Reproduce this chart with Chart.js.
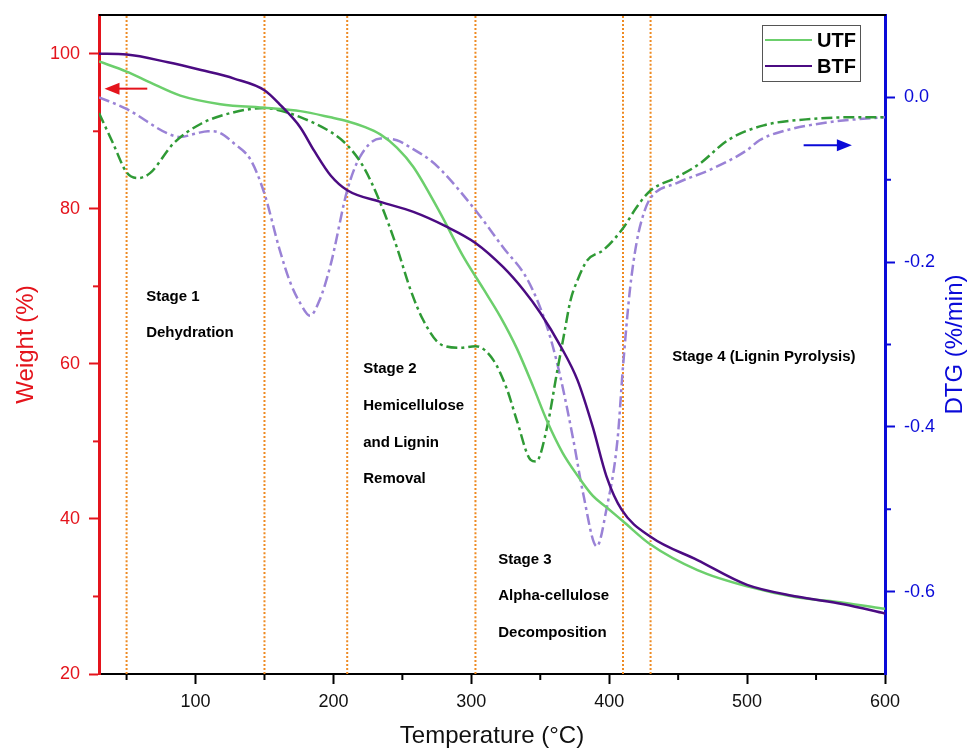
<!DOCTYPE html>
<html>
<head>
<meta charset="utf-8">
<title>TGA / DTG</title>
<script src="https://cdn.jsdelivr.net/npm/chart.js@4.4.1/dist/chart.umd.min.js"></script>
<style>
  html, body { margin: 0; padding: 0; background: #fff; }
</style>
</head>
<body>
<canvas id="tga" width="968" height="752"></canvas>
<script>
// Weight loss (TGA, left axis, %)
const utfTgaTemp   = [30, 50, 67, 89, 118, 152, 176, 198, 210, 222, 234, 246, 258, 277, 294, 309, 321, 333, 345, 355, 366, 377, 388, 398, 410, 430, 464, 500, 536, 570, 600];
const utfTgaWeight = [99.0, 97.7, 96.3, 94.6, 93.5, 93.0, 92.6, 91.8, 91.3, 90.6, 89.6, 87.9, 85.4, 79.6, 73.9, 69.6, 66.1, 62.0, 57.0, 52.6, 48.6, 45.6, 43.0, 41.5, 39.7, 36.7, 33.4, 31.3, 29.9, 29.2, 28.4];

const btfTgaTemp   = [30, 50, 80, 104, 128, 150, 162, 176, 186, 198, 210, 234, 258, 282, 303, 323, 338, 350, 365, 377, 388, 398, 409, 430, 464, 500, 536, 570, 600];
const btfTgaWeight = [100.0, 99.9, 98.9, 97.9, 96.8, 95.3, 93.3, 90.5, 87.5, 84.3, 82.4, 80.9, 79.6, 77.7, 75.6, 72.5, 69.5, 66.6, 62.2, 57.9, 51.9, 45.5, 41.2, 37.7, 34.7, 31.5, 30.0, 29.0, 27.8];

// Derivative curves (DTG, right axis, %/min)
const utfDtgTemp = [30, 40, 50, 58, 67, 84, 104, 128, 150, 159, 176, 198, 210, 222, 234, 246, 256, 265, 278, 292, 303, 316, 326, 333, 343, 347, 355, 362, 367, 372, 377, 384, 396, 410, 420, 430, 449, 466, 486, 512, 548, 584, 600];
const utfDtgRate = [-0.019, -0.055, -0.091, -0.098, -0.092, -0.056, -0.032, -0.018, -0.013, -0.015, -0.024, -0.042, -0.058, -0.085, -0.128, -0.182, -0.234, -0.270, -0.300, -0.304, -0.302, -0.319, -0.355, -0.392, -0.440, -0.442, -0.400, -0.335, -0.290, -0.246, -0.222, -0.198, -0.185, -0.159, -0.133, -0.113, -0.097, -0.080, -0.052, -0.034, -0.026, -0.024, -0.024];

const btfDtgTemp = [30, 50, 80, 89, 100, 109, 116, 128, 140, 150, 161, 169, 176, 183, 190, 198, 210, 219, 234, 246, 256, 270, 278, 303, 323, 341, 355, 364, 374, 381, 391, 398, 406, 410, 415, 420, 425, 430, 449, 473, 500, 509, 524, 560, 600];
const btfDtgRate = [0.0, -0.014, -0.044, -0.048, -0.044, -0.041, -0.042, -0.056, -0.076, -0.117, -0.185, -0.226, -0.250, -0.265, -0.246, -0.203, -0.113, -0.073, -0.050, -0.052, -0.061, -0.076, -0.088, -0.137, -0.182, -0.222, -0.279, -0.335, -0.416, -0.480, -0.545, -0.500, -0.416, -0.327, -0.234, -0.175, -0.141, -0.122, -0.104, -0.088, -0.064, -0.052, -0.042, -0.030, -0.024];

// Stage boundaries (°C)
const stageBounds = [50, 150, 210, 303, 410, 430];

// Axis ticks
const tempTicks   = [100, 200, 300, 400, 500, 600];
const weightTicks = [20, 40, 60, 80, 100];
const dtgTicks    = [-0.6, -0.4, -0.2, 0.0];
const tempMinor   = [50, 150, 250, 350, 450, 550];
const weightMinor = [30, 50, 70, 90];
const dtgMinor    = [-0.5, -0.3, -0.1];

const FONT = '"Liberation Sans", Arial, Helvetica, sans-serif';
const RED = '#e4141c';
const BLUE = '#0a0ad8';
const C_UTF = '#6ccf6c';
const C_BTF = '#4b0b82';
const C_UTF_DTG = '#2f9a35';
const C_BTF_DTG = '#9a82d6';
const C_STAGE = '#ee8a22';
const DASH_DOT = [11, 4, 3, 4];

const zip = (xs, ys) => xs.map((x, i) => ({ x: x, y: ys[i] }));
const asTicks = vals => vals.map(v => ({ value: v }));

const datasets = [
  { label: 'UTF', data: zip(utfTgaTemp, utfTgaWeight), yAxisID: 'y', borderColor: C_UTF, borderWidth: 2.5, order: 1 },
  { label: 'BTF', data: zip(btfTgaTemp, btfTgaWeight), yAxisID: 'y', borderColor: C_BTF, borderWidth: 2.5, order: 0 },
  { label: 'UTF DTG', data: zip(utfDtgTemp, utfDtgRate), yAxisID: 'y2', borderColor: C_UTF_DTG, borderWidth: 2.5, borderDash: DASH_DOT, order: 2 },
  { label: 'BTF DTG', data: zip(btfDtgTemp, btfDtgRate), yAxisID: 'y2', borderColor: C_BTF_DTG, borderWidth: 2.5, borderDash: DASH_DOT, order: 3 }
];

stageBounds.forEach(t => {
  datasets.push({
    label: 'stage ' + t,
    data: [{ x: t, y: 20 }, { x: t, y: 105 }],
    yAxisID: 'y',
    borderColor: C_STAGE,
    borderWidth: 2,
    borderDash: [2, 2],
    order: 10
  });
});

// text notes and direction arrows, placed in data units
const stageNotes = [
  { t: 64.2, w: 68.7, lines: ['Stage 1', 'Dehydration'] },
  { t: 221.6, w: 59.3, lines: ['Stage 2', 'Hemicellulose', 'and Lignin', 'Removal'] },
  { t: 319.5, w: 34.75, lines: ['Stage 3', 'Alpha-cellulose', 'Decomposition'] },
  { t: 445.7, w: 60.9, lines: ['Stage 4 (Lignin Pyrolysis)'] }
];

function arrow(ctx, x0, y0, x1, color) {
  const dir = Math.sign(x1 - x0);
  ctx.strokeStyle = color;
  ctx.fillStyle = color;
  ctx.lineWidth = 2;
  ctx.beginPath();
  ctx.moveTo(x0, y0);
  ctx.lineTo(x1 - dir * 12, y0);
  ctx.stroke();
  ctx.beginPath();
  ctx.moveTo(x1, y0);
  ctx.lineTo(x1 - dir * 15, y0 - 6);
  ctx.lineTo(x1 - dir * 15, y0 + 6);
  ctx.closePath();
  ctx.fill();
}

const decorations = {
  id: 'decorations',
  afterDraw(chart) {
    const { ctx, chartArea: a } = chart;
    const sx = chart.scales.x, sy = chart.scales.y, sy2 = chart.scales.y2;
    ctx.save();

    // frame top
    ctx.strokeStyle = '#000';
    ctx.lineWidth = 2;
    ctx.beginPath();
    ctx.moveTo(a.left, a.top);
    ctx.lineTo(a.right + 1, a.top);
    ctx.stroke();

    // minor ticks
    ctx.lineWidth = 2;
    ctx.strokeStyle = '#000';
    tempMinor.forEach(v => {
      const px = sx.getPixelForValue(v);
      ctx.beginPath(); ctx.moveTo(px, a.bottom); ctx.lineTo(px, a.bottom + 6); ctx.stroke();
    });
    ctx.strokeStyle = RED;
    weightMinor.forEach(v => {
      const py = sy.getPixelForValue(v);
      ctx.beginPath(); ctx.moveTo(a.left, py); ctx.lineTo(a.left - 6, py); ctx.stroke();
    });
    ctx.strokeStyle = BLUE;
    dtgMinor.forEach(v => {
      const py = sy2.getPixelForValue(v);
      ctx.beginPath(); ctx.moveTo(a.right, py); ctx.lineTo(a.right + 6, py); ctx.stroke();
    });

    // arrows pointing at each curve's axis
    arrow(ctx, sx.getPixelForValue(65), sy.getPixelForValue(95.5), sx.getPixelForValue(34), RED);
    arrow(ctx, sx.getPixelForValue(541), sy2.getPixelForValue(-0.058), sx.getPixelForValue(576), BLUE);

    // stage notes
    ctx.fillStyle = '#000';
    ctx.font = 'bold 15px ' + FONT;
    ctx.textAlign = 'left';
    ctx.textBaseline = 'middle';
    stageNotes.forEach(n => {
      const px = sx.getPixelForValue(n.t);
      const py = sy.getPixelForValue(n.w);
      n.lines.forEach((s, i) => ctx.fillText(s, px, py + i * 36.6));
    });

    // legend
    const lx = a.right - 123, ly = a.top + 10;
    ctx.fillStyle = '#fff';
    ctx.fillRect(lx, ly, 98, 56);
    ctx.strokeStyle = '#555';
    ctx.lineWidth = 1;
    ctx.strokeRect(lx + 0.5, ly + 0.5, 98, 56);
    [['UTF', C_UTF, 15], ['BTF', C_BTF, 41]].forEach(([name, col, dy]) => {
      ctx.strokeStyle = col;
      ctx.lineWidth = 2;
      ctx.beginPath();
      ctx.moveTo(lx + 3, ly + dy);
      ctx.lineTo(lx + 50, ly + dy);
      ctx.stroke();
      ctx.fillStyle = '#000';
      ctx.font = 'bold 20px ' + FONT;
      ctx.fillText(name, lx + 55, ly + dy + 1);
    });

    // right axis title, reading bottom to top
    ctx.translate(a.right + 70, (a.top + a.bottom) / 2);
    ctx.rotate(-Math.PI / 2);
    ctx.fillStyle = BLUE;
    ctx.font = '24px ' + FONT;
    ctx.textAlign = 'center';
    ctx.textBaseline = 'middle';
    ctx.fillText('DTG (%/min)', 0, 0);

    ctx.restore();
  }
};

// fixed axis boxes so the plot area keeps its place
const fitY = width => s => { s.width = width; s.paddingTop = 0; s.paddingBottom = 0; };

new Chart(document.getElementById('tga'), {
  type: 'line',
  data: { datasets: datasets },
  plugins: [decorations],
  options: {
    responsive: false,
    devicePixelRatio: 1,
    animation: false,
    layout: { padding: { top: 15, left: 0, right: 0, bottom: 0 } },
    elements: {
      point: { radius: 0 },
      line: { cubicInterpolationMode: 'monotone', fill: false }
    },
    plugins: {
      legend: { display: false },
      tooltip: { enabled: false }
    },
    scales: {
      x: {
        type: 'linear',
        position: 'bottom',
        min: 30,
        max: 600,
        afterBuildTicks: s => { s.ticks = asTicks(tempTicks); },
        ticks: { color: '#111', font: { family: FONT, size: 18 }, padding: 7, maxRotation: 0 },
        grid: { drawOnChartArea: false, drawTicks: true, tickLength: 10, tickColor: '#000', tickWidth: 2 },
        border: { color: '#000', width: 2 },
        title: { display: true, text: 'Temperature (°C)', color: '#111', font: { family: FONT, size: 24 }, padding: { top: 0, bottom: 1 } },
        afterFit: s => { s.height = 78; s.paddingLeft = 0; s.paddingRight = 0; }
      },
      y: {
        type: 'linear',
        position: 'left',
        min: 20,
        max: 105,
        afterBuildTicks: s => { s.ticks = asTicks(weightTicks); },
        ticks: { color: RED, font: { family: FONT, size: 18 }, padding: 9 },
        grid: { drawOnChartArea: false, drawTicks: true, tickLength: 10, tickColor: RED, tickWidth: 2 },
        border: { color: RED, width: 3 },
        title: { display: true, text: 'Weight (%)', color: RED, font: { family: FONT, size: 24 }, padding: { top: 12, bottom: 0 } },
        afterFit: fitY(99)
      },
      y2: {
        type: 'linear',
        position: 'right',
        min: -0.7,
        max: 0.1,
        afterBuildTicks: s => { s.ticks = asTicks(dtgTicks); },
        ticks: {
          color: BLUE,
          font: { family: FONT, size: 18 },
          padding: 9,
          callback: v => (Math.abs(v) < 1e-9 ? 0 : v).toFixed(1)
        },
        grid: { drawOnChartArea: false, drawTicks: true, tickLength: 10, tickColor: BLUE, tickWidth: 2 },
        border: { color: BLUE, width: 3 },
        afterFit: fitY(83)
      }
    }
  }
});
</script>
</body>
</html>
